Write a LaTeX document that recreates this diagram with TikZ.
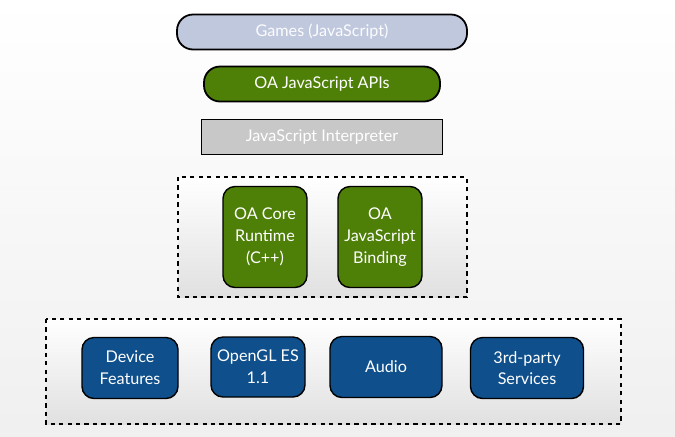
\documentclass[tikz,border=0pt]{standalone}
\usepackage{fontspec}
\setmainfont{Lato}
\usetikzlibrary{positioning}
\definecolor{gamesblue}{RGB}{192, 200, 222}
\definecolor{oagreen}{RGB}{78, 128, 8}
\definecolor{interpgrey}{RGB}{200, 200, 200}
\definecolor{nativeblue}{RGB}{15, 80, 140}

\begin{document}
\begin{tikzpicture}[
                x = 0.025cm, y = -0.025cm, % one unit = one pixel
                font=\fontsize{11.5}{15.5}\selectfont,
                layer/.style = {
                    draw = black,
                    line width = 0.45mm,
                    text = white,
                    align = center,
                    inner sep = 2pt
                },
                roundlayer/.style = {
                    layer,
                    rounded corners = 4mm
                },
                module/.style = {
                    layer,
                    rounded corners = 3mm,
                    line width = 0.35mm
                },
                group/.style = {
                    draw = black,
                    dashed,
                    line width = 0.3mm,
                    top color = white,
                    bottom color = black!12
                }
                ]
                % page
                \useasboundingbox[top color=white, bottom color=black!6] (0,0) rectangle (675,436);

                % upper stack
                \node[roundlayer, fill=gamesblue, text=white!95!gamesblue,
                      minimum width=290*0.025cm, minimum height=35*0.025cm] (games) at (322,32) {Games (JavaScript)};
                \node[roundlayer, fill=oagreen,
                      minimum width=236*0.025cm, minimum height=35*0.025cm] (apis) at (322,84) {OA JavaScript APIs};
                \node[layer, fill=interpgrey,
                      minimum width=241*0.025cm, minimum height=35*0.025cm] (interp) at (322,137) {JavaScript Interpreter};

                % core group
                \draw[group] (178,177) rectangle (467,297);
                \node[module, fill=oagreen,
                      minimum width=84*0.025cm, minimum height=101*0.025cm] (core) at (265,237) {OA Core\\Runtime\\(C++)};
                \node[module, fill=oagreen,
                      minimum width=84*0.025cm, minimum height=101*0.025cm] (binding) at (380,237) {OA\\JavaScript\\Binding};

                % native group
                \draw[group] (46,319) rectangle (621,424);
                \node[module, fill=nativeblue,
                      minimum width=96*0.025cm, minimum height=61*0.025cm] (device) at (130,368) {Device\\Features};
                \node[module, fill=nativeblue,
                      minimum width=94*0.025cm, minimum height=60*0.025cm] (opengl) at (258,367) {OpenGL ES\\1.1};
                \node[module, fill=nativeblue,
                      minimum width=112*0.025cm, minimum height=61*0.025cm] (audio) at (386,367) {Audio};
                \node[module, fill=nativeblue,
                      minimum width=113*0.025cm, minimum height=61*0.025cm] (services) at (527,368) {3rd-party\\Services};
\end{tikzpicture}
\end{document}
